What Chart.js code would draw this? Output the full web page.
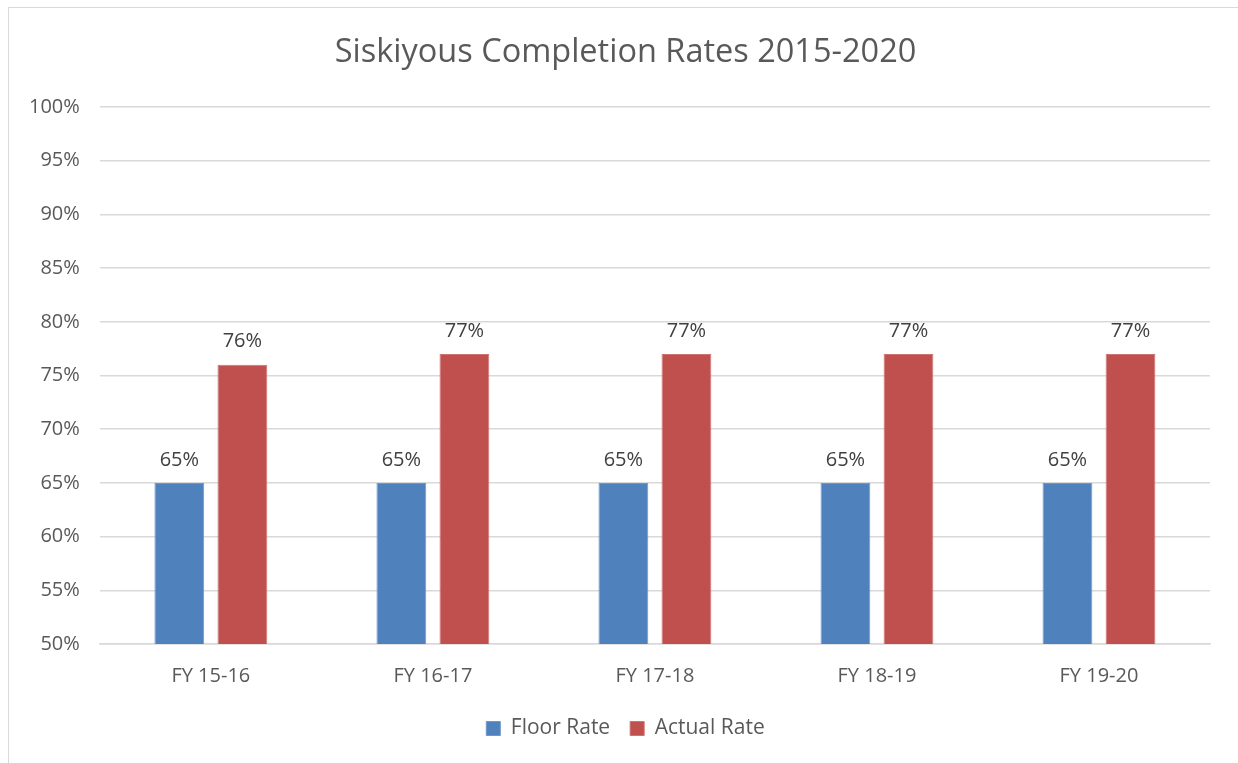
<!DOCTYPE html>
<html><head><meta charset="utf-8">
<script src="https://cdn.jsdelivr.net/npm/chart.js@4.4.0/dist/chart.umd.min.js"></script>
<style>
html,body{margin:0;padding:0;background:#fff;overflow:hidden;}
#frame{position:absolute;left:8px;top:7px;width:1240px;height:800px;border:1.5px solid #d9d9d9;box-sizing:border-box;}
#wrap{position:absolute;left:0;top:0;width:1229px;height:755px;}
</style></head>
<body>
<div id="frame"><div id="wrap"><canvas id="c"></canvas></div></div>
<script>
const categories = ["FY 15-16","FY 16-17","FY 17-18","FY 18-19","FY 19-20"];
const floorRate = [0.65,0.65,0.65,0.65,0.65];
const actualRate = [0.76,0.77,0.77,0.77,0.77];
const seriesNames = ["Floor Rate","Actual Rate"];
const titleText = "Siskiyous Completion Rates 2015-2020";

const FONT = "'Open Sans', 'Noto Sans', sans-serif";
const labelPlugin = {
  id:'barLabels',
  afterDatasetsDraw(chart){
    const ctx = chart.ctx;
    ctx.save();
    ctx.font = "20px " + FONT;
    ctx.fillStyle = "#404040";
    ctx.textAlign = "center";
    ctx.textBaseline = "bottom";
    chart.data.datasets.forEach((ds,i)=>{
      const meta = chart.getDatasetMeta(i);
      meta.data.forEach((bar,j)=>{
        ctx.fillText(Math.round(ds.data[j]*100)+"%", bar.x, bar.y - 13);
      });
    });
    ctx.restore();
  }
};
// widen the y-axis label area to the left so labels are not clipped
const yAreaPlugin = {
  id:'yArea',
  afterLayout(chart){ chart.scales.y.left -= 32; }
};

new Chart(document.getElementById('c'), {
  type:'bar',
  data:{
    labels:categories,
    datasets:[
      {label:seriesNames[0], data:floorRate, backgroundColor:'#4f81bd', borderColor:'#6f97c9', borderWidth:1},
      {label:seriesNames[1], data:actualRate, backgroundColor:'#c0504d', borderColor:'#cd7370', borderWidth:1}
    ]
  },
  options:{
    responsive:true, maintainAspectRatio:false, animation:false,
    categoryPercentage:0.568, barPercentage:0.79,
    layout:{padding:{left:32,right:28,top:20,bottom:14}},
    plugins:{
      title:{display:true,text:titleText,color:'#595959',font:{family:FONT,size:32.5,weight:'normal'},padding:{top:5,bottom:35}},
      legend:{position:'bottom',labels:{color:'#595959',font:{family:FONT,size:21},boxWidth:14,boxHeight:14,padding:20}},
      tooltip:{enabled:false}
    },
    scales:{
      x:{grid:{display:false,drawTicks:false},border:{color:'#d9d9d9',width:1.5},
         ticks:{color:'#595959',font:{family:FONT,size:20},padding:20},
         afterFit:s=>{s.height -= 10;}},
      y:{min:0.5,max:1.0,
         grid:{color:'#d9d9d9',lineWidth:1.5,drawTicks:false},
         border:{display:false},
         ticks:{stepSize:0.05,color:'#595959',font:{family:FONT,size:20},padding:20,
           callback:v=>Math.round(v*100)+"%"},
         afterFit:s=>{s.width -= 32;}}
    }
  },
  plugins:[labelPlugin, yAreaPlugin]
});
</script>
</body></html>
